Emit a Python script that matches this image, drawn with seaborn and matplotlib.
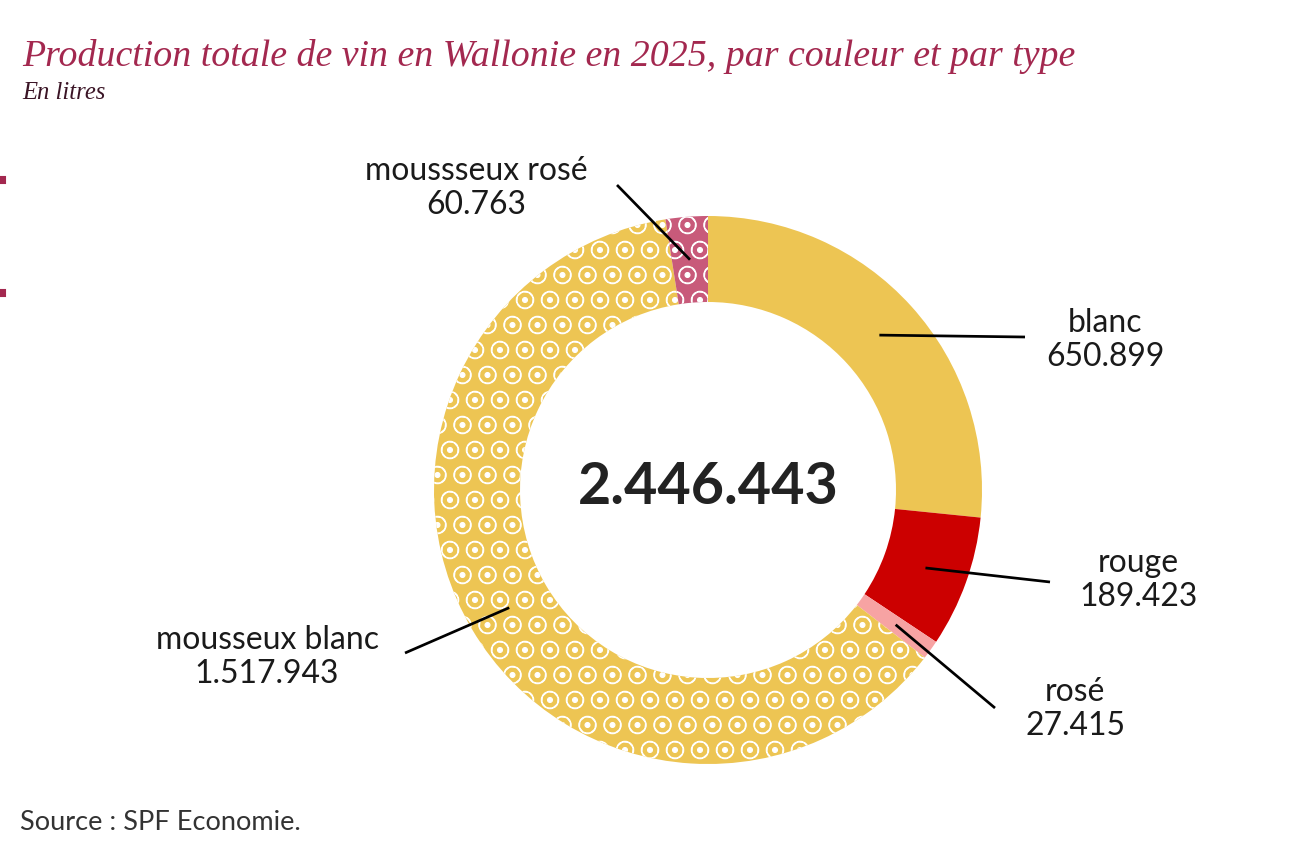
import numpy as np
import matplotlib.pyplot as plt
import seaborn as sns

# --- data ---
categories = ['blanc', 'rouge', 'rosé', 'mousseux blanc', 'moussseux rosé']
litres = [650899, 189423, 27415, 1517943, 60763]
sparkling = [False, False, False, True, True]
colors = ['#EDC553', '#CC0000', '#F7A3A3', '#EDC553', '#C85A7A']

TITLE = 'Production totale de vin en Wallonie en 2025, par couleur et par type'
SUBTITLE = 'En litres'
SOURCE = 'Source : SPF Economie.'

# --- layout (pixels of the 1315x848 picture) ---
W, H, DPI = 1315, 848, 150
CX, CY, R = 708, 490, 274      # donut centre and outer radius
RING = 86 / 274                # ring width relative to radius
# label centre, leader end
label_pos = {
    'blanc': ((1105, 340), (1025, 337)),
    'rouge': ((1138, 580), (1050, 582)),
    'rosé': ((1075, 709), (995, 708)),
    'mousseux blanc': ((267, 657), (405, 653)),
    'moussseux rosé': ((476, 188), (617, 185)),
}


def fmt(v):
    return f'{v:,}'.replace(',', '.')


def px(p):
    return ((p[0] - CX) / R, (CY - p[1]) / R)


sns.set_theme(style='white')
plt.rcParams['font.family'] = ['Lato', 'DejaVu Sans']
plt.rcParams['hatch.linewidth'] = 0.5
plt.rcParams['hatch.color'] = 'white'

fig = plt.figure(figsize=(W / DPI, H / DPI), dpi=DPI)
ax = fig.add_axes([0, 0, 1, 1])

wedges, _ = ax.pie(litres, colors=colors, startangle=90, counterclock=False,
                   radius=1, wedgeprops=dict(width=RING, linewidth=0))
# bubbles on the sparkling wines
for w, sp in zip(wedges, sparkling):
    if sp:
        w.set_hatch('O.')
        w.set_edgecolor('white')
        w.set_linewidth(0)

ax.set_xlim(-CX / R, (W - CX) / R)
ax.set_ylim(-(H - CY) / R, CY / R)
ax.set_aspect('auto')
ax.axis('off')

# labels with leader lines
r_mid = 1 - RING / 2
for w, cat, v in zip(wedges, categories, litres):
    a = np.deg2rad((w.theta1 + w.theta2) / 2)
    x0, y0 = r_mid * np.cos(a), r_mid * np.sin(a)
    (tx, ty), (ex, ey) = [px(p) for p in label_pos[cat]]
    ax.plot([x0, ex], [y0, ey], color='black', lw=1.3, solid_capstyle='butt')
    ax.text(tx, ty, f'{cat}\n{fmt(v)}', ha='center', va='center',
            fontsize=15.3, color='#1a1a1a', linespacing=1.2)

# total in the middle
ax.text(0, (CY - 488) / R, fmt(sum(litres)), ha='center', va='center',
        fontsize=27.6, fontweight='bold', color='#222222')

# titles and source
fig.text(22 / W, 1 - 66 / H, TITLE, fontsize=18.2, style='italic',
         family=['Liberation Serif'], color='#A3284F', va='baseline')
fig.text(22 / W, 1 - 99 / H, SUBTITLE, fontsize=11.8, style='italic',
         family=['Liberation Serif'], color='#3B1526', va='baseline')
fig.text(20 / W, 1 - 830 / H, SOURCE, fontsize=13, color='#333333',
         va='baseline')

# small marks at the left edge
for y in (180, 293):
    fig.patches.append(plt.Rectangle((0, 1 - (y + 3) / H), 5 / W, 6 / H,
                                     transform=fig.transFigure,
                                     color='#A3284F', figure=fig))

fig.savefig('out.png', dpi=DPI, facecolor='white')
